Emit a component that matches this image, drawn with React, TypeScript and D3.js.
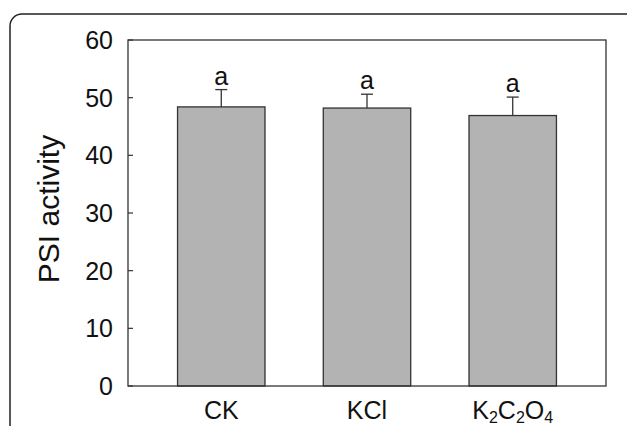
import React from "react";
import * as d3 from "d3";

const categories = ["CK", "KCl", "K2C2O4"];
const values = [48.4, 48.2, 46.9];
const errors = [3.0, 2.4, 3.2];
const letters = ["a", "a", "a"];
const yTicks = [0, 10, 20, 30, 40, 50, 60];
const yLabel = "PSI activity";

const W = 627;
const H = 426;
const M = { left: 128, top: 40, right: 606, bottom: 386 };

export default function App() {
  const x = d3
    .scaleBand<string>()
    .domain(categories)
    .range([M.left, M.right])
    .paddingInner(0.4)
    .paddingOuter(0.34);
  const y = d3.scaleLinear().domain([0, 60]).range([M.bottom, M.top]);
  const font = "Liberation Sans, Arial, sans-serif";
  const stroke = "#333";

  const renderLabel = (c: string) => {
    if (c === "K2C2O4") {
      return (
        <>
          <tspan>K</tspan>
          <tspan fontSize={16} dy={4}>2</tspan>
          <tspan dy={-4}>C</tspan>
          <tspan fontSize={16} dy={4}>2</tspan>
          <tspan dy={-4}>O</tspan>
          <tspan fontSize={16} dy={4}>4</tspan>
        </>
      );
    }
    return c;
  };

  return (
    <svg
      width={W}
      height={H}
      style={{ position: "absolute", left: 0, top: 0, background: "#fff" }}
      fontFamily={font}
    >
      <rect x={0} y={0} width={W} height={H} fill="#fff" />
      <rect
        x={10}
        y={14}
        width={W + 20}
        height={H + 20}
        rx={12}
        ry={12}
        fill="none"
        stroke="#222"
        strokeWidth={1.5}
      />
      {categories.map((c, i) => {
        const bx = x(c)!;
        const bw = x.bandwidth();
        const cx = bx + bw / 2;
        const top = y(values[i]);
        const cap = y(values[i] + errors[i]);
        return (
          <g key={c}>
            <rect
              x={bx}
              y={top}
              width={bw}
              height={y(0) - top}
              fill="#b3b3b3"
              stroke={stroke}
              strokeWidth={1.3}
            />
            <line x1={cx} x2={cx} y1={top} y2={cap} stroke={stroke} strokeWidth={1.3} />
            <line x1={cx - 6} x2={cx + 6} y1={cap} y2={cap} stroke={stroke} strokeWidth={1.3} />
            <text x={cx} y={cap - 5} textAnchor="middle" fontSize={25} fill="#111">
              {letters[i]}
            </text>
            <text x={cx} y={419} textAnchor="middle" fontSize={25} fill="#111">
              {renderLabel(c)}
            </text>
          </g>
        );
      })}
      <rect
        x={M.left}
        y={M.top}
        width={M.right - M.left}
        height={M.bottom - M.top}
        fill="none"
        stroke={stroke}
        strokeWidth={1.3}
      />
      {yTicks.map((t) => (
        <g key={t}>
          <line x1={M.left} x2={M.left + 5} y1={y(t)} y2={y(t)} stroke={stroke} strokeWidth={1.2} />
          <text x={113} y={y(t)} dy="0.36em" textAnchor="end" fontSize={25} fill="#111">
            {t}
          </text>
        </g>
      ))}
      <text
        transform={`translate(59, 209) rotate(-90)`}
        textAnchor="middle"
        fontSize={30}
        fill="#111"
      >
        {yLabel}
      </text>
    </svg>
  );
}
